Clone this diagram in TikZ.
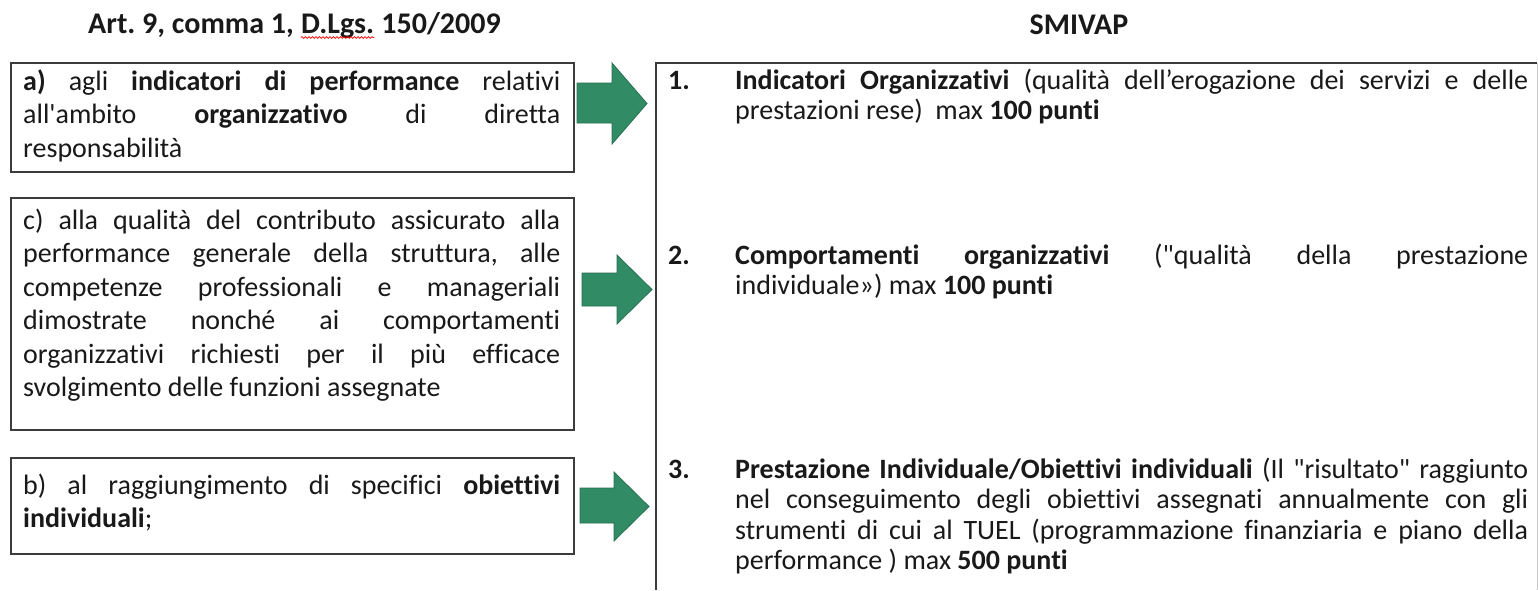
\documentclass[tikz,border=0pt]{standalone}
\usepackage{fontspec}
\setmainfont{Carlito}[Ligatures={TeXOff,NoCommon}]
\usetikzlibrary{decorations.pathmorphing}
\definecolor{agreen}{RGB}{49,140,102}
\definecolor{agreendark}{RGB}{38,112,80}
\definecolor{boxgray}{RGB}{60,60,60}
\definecolor{txt}{RGB}{25,25,25}
\tolerance=10000
\hbadness=10000
\hfuzz=20pt
\frenchspacing
\tikzset{
  boxst/.style={draw=boxgray, line width=1.4pt},
  ltext/.style={anchor=base west, inner sep=0pt, text width=537pt, align=justify,
    font=\fontsize{28}{33.5}\selectfont, text=txt},
  rtext/.style={anchor=base west, inner sep=0pt, text width=793pt, align=justify,
    font=\fontsize{28}{30.6}\selectfont, text=txt},
  numst/.style={anchor=base west, inner sep=0pt, font=\fontsize{28}{30.6}\selectfont\bfseries, text=txt},
  titlest/.style={inner sep=0pt, font=\fontsize{30}{36}\selectfont\bfseries, text=txt},
  garrow/.style={fill=agreen, draw=agreendark, line width=0.8pt, line join=miter},
  spell/.style={draw=red, line width=0.7pt, decorate, decoration={snake, amplitude=0.9pt, segment length=3.5pt}}
}
\begin{document}
\begin{tikzpicture}[x=1pt, y=-1pt]
\useasboundingbox (0,0) rectangle (1538,590);
\fill[white] (0,0) rectangle (1538,590);

% titles
\node[titlest, anchor=base west] (t1) at (88,33) {Art. 9, comma 1,};
\node[titlest, anchor=base west] (t2) at ([xshift=6.8pt]t1.base east) {D.Lgs.};
\node[titlest, anchor=base west] (t3) at ([xshift=6.8pt]t2.base east) {150/2009};
\draw[spell] ([yshift=-4.5pt]t2.base west) -- ([yshift=-4.5pt]t2.base east);
\node[titlest, anchor=base] (smivap) at (1079,34) {SMIVAP};

% left boxes
\draw[boxst] (11,63) rectangle (574,172);
\draw[boxst] (11,198) rectangle (574,430);
\draw[boxst] (11,458) rectangle (574,554);

\node[ltext] (ta) at (23,90) {\textbf{a)} agli \textbf{indicatori di performance} relativi\linebreak
all'ambito \textbf{organizzativo} di diretta\linebreak
responsabilità};

\node[ltext] (tc) at (23,229) {c) alla qualità del contributo assicurato alla\linebreak
performance generale della struttura, alle\linebreak
competenze professionali e manageriali\linebreak
dimostrate nonché ai comportamenti\linebreak
organizzativi richiesti per il più efficace\linebreak
svolgimento delle funzioni assegnate};

\node[ltext] (tb) at (23,494) {b) al raggiungimento di specifici \textbf{obiettivi}\linebreak
\textbf{individuali};};

% arrows
\path[garrow] (577,83) -- (612,83) -- (612,63) -- (647,103.5) -- (612,144) -- (612,123) -- (577,123) -- cycle;
\path[garrow] (582,273) -- (617,273) -- (617,255) -- (652,289.5) -- (617,324) -- (617,306) -- (582,306) -- cycle;
\path[garrow] (580,488) -- (614,488) -- (614,472) -- (649,506.5) -- (614,541) -- (614,523) -- (580,523) -- cycle;

% right box (open at the bottom)
\draw[boxst] (656,590) -- (656,63) -- (1537,63);
\draw[draw=gray!45, line width=1pt] (1537,63) -- (1537,590);

% right items
\node[numst] (n1) at (668,89) {1.};
\node[rtext] (r1) at (735,89) {\textbf{Indicatori Organizzativi} (qualità dell’erogazione dei servizi e delle\linebreak
prestazioni rese)\ \ max \textbf{100 punti}};

\node[numst] (n2) at (668,264) {2.};
\node[rtext] (r2) at (735,264) {\textbf{Comportamenti organizzativi} ("qualità della prestazione\linebreak
individuale») max \textbf{100 punti}};

\node[numst] (n3) at (668,478) {3.};
\node[rtext] (r3) at (735,478) {\textbf{Prestazione Individuale/Obiettivi individuali} (Il "risultato" raggiunto\linebreak
nel conseguimento degli obiettivi assegnati annualmente con gli\linebreak
strumenti di cui al TUEL (programmazione finanziaria e piano della\linebreak
performance ) max \textbf{500 punti}};
\end{tikzpicture}
\end{document}
